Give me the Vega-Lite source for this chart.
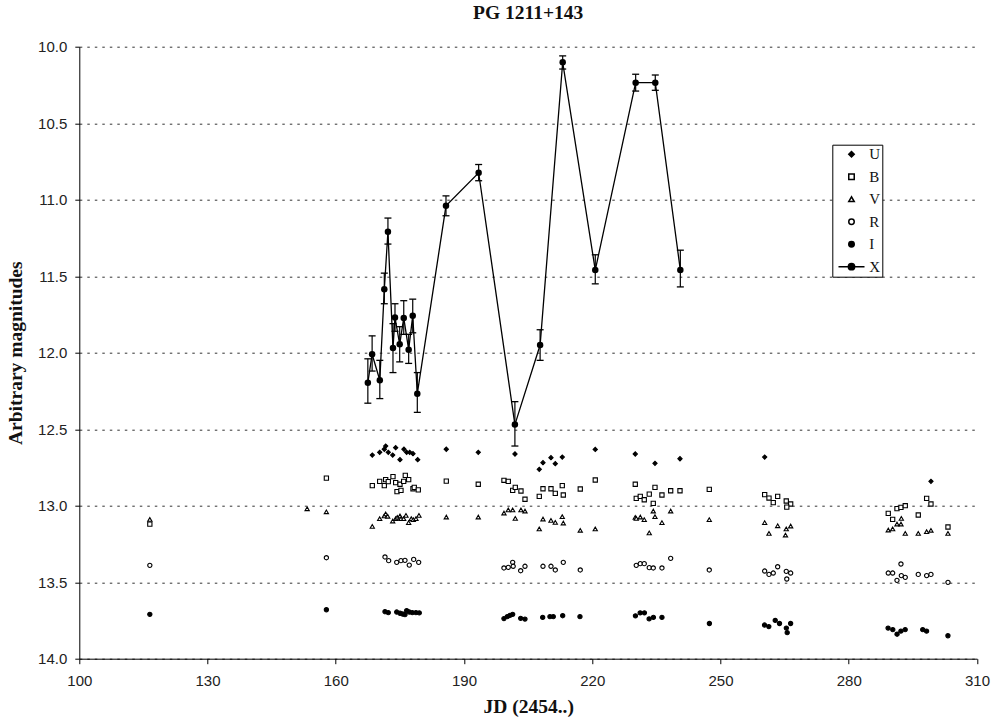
{
"$schema": "https://vega.github.io/schema/vega-lite/v6.json",
"width": 897.7, "height": 612,
"autosize": {"type": "none"},
"padding": {"left": 79.3, "top": 46.7, "right": 14, "bottom": 63.3},
"background": "white",
"title": {"text": "PG 1211+143", "font": "Liberation Serif", "fontSize": 19.5, "fontWeight": "bold", "color": "#111", "offset": 16, "anchor": "middle"},
"config": {
 "view": {"stroke": null},
 "axis": {"domainColor": "black", "tickColor": "black", "labelFont": "Liberation Sans", "labelFontSize": 15, "labelColor": "#222", "titleFont": "Liberation Serif", "titleFontWeight": "bold", "titleFontSize": 19.5, "titleColor": "#111", "tickSize": 5},
 "axisX": {"grid": false, "labelPadding": 10, "titlePadding": 9, "labelFlush": false},
 "axisY": {"grid": true, "gridDash": [2.5,5], "gridColor": "#333", "labelPadding": 8, "tickSize": 4.5, "titlePadding": 12, "labelFlush": false}
},
"datasets": {
"bands": [
{"band":"U","jd":168.54,"mag":12.669},{"band":"U","jd":170.27,"mag":12.651},{"band":"U","jd":171.35,"mag":12.631},{"band":"U","jd":171.67,"mag":12.61},{"band":"U","jd":172.28,"mag":12.651},{"band":"U","jd":173.31,"mag":12.669},{"band":"U","jd":174.01,"mag":12.621},{"band":"U","jd":175.02,"mag":12.699},{"band":"U","jd":175.95,"mag":12.631},{"band":"U","jd":176.58,"mag":12.651},{"band":"U","jd":177.29,"mag":12.651},{"band":"U","jd":178.06,"mag":12.66},{"band":"U","jd":179.16,"mag":12.699},{"band":"U","jd":185.85,"mag":12.631},{"band":"U","jd":193.33,"mag":12.651},{"band":"U","jd":201.92,"mag":12.662},{"band":"U","jd":207.6,"mag":12.762},{"band":"U","jd":208.47,"mag":12.719},{"band":"U","jd":210.34,"mag":12.686},{"band":"U","jd":211.35,"mag":12.725},{"band":"U","jd":212.98,"mag":12.682},{"band":"U","jd":220.7,"mag":12.632},{"band":"U","jd":230.06,"mag":12.662},{"band":"U","jd":234.67,"mag":12.723},{"band":"U","jd":240.52,"mag":12.693},{"band":"U","jd":260.33,"mag":12.682},{"band":"U","jd":299.23,"mag":12.841},
{"band":"B","jd":116.5,"mag":13.12},{"band":"B","jd":157.8,"mag":12.82},{"band":"B","jd":168.54,"mag":12.869},{"band":"B","jd":170.27,"mag":12.841},{"band":"B","jd":171.35,"mag":12.869},{"band":"B","jd":171.67,"mag":12.83},{"band":"B","jd":172.28,"mag":12.843},{"band":"B","jd":173.38,"mag":12.81},{"band":"B","jd":174.01,"mag":12.849},{"band":"B","jd":174.32,"mag":12.908},{"band":"B","jd":175.02,"mag":12.86},{"band":"B","jd":175.25,"mag":12.9},{"band":"B","jd":175.88,"mag":12.841},{"band":"B","jd":176.26,"mag":12.802},{"band":"B","jd":177.05,"mag":12.83},{"band":"B","jd":178.06,"mag":12.889},{"band":"B","jd":178.36,"mag":12.88},{"band":"B","jd":179.3,"mag":12.897},{"band":"B","jd":185.85,"mag":12.839},{"band":"B","jd":193.33,"mag":12.86},{"band":"B","jd":199.34,"mag":12.834},{"band":"B","jd":200.35,"mag":12.841},{"band":"B","jd":201.38,"mag":12.9},{"band":"B","jd":201.99,"mag":12.88},{"band":"B","jd":203.32,"mag":12.904},{"band":"B","jd":204.26,"mag":12.958},{"band":"B","jd":207.6,"mag":12.939},{"band":"B","jd":208.47,"mag":12.889},{"band":"B","jd":210.34,"mag":12.889},{"band":"B","jd":211.35,"mag":12.919},{"band":"B","jd":212.98,"mag":12.869},{"band":"B","jd":213.22,"mag":12.93},{"band":"B","jd":217.19,"mag":12.891},{"band":"B","jd":220.7,"mag":12.832},{"band":"B","jd":230.06,"mag":12.86},{"band":"B","jd":230.29,"mag":12.952},{"band":"B","jd":231.23,"mag":12.939},{"band":"B","jd":232.16,"mag":12.961},{"band":"B","jd":233.33,"mag":12.924},{"band":"B","jd":234.27,"mag":12.985},{"band":"B","jd":234.67,"mag":12.88},{"band":"B","jd":236.3,"mag":12.93},{"band":"B","jd":238.34,"mag":12.902},{"band":"B","jd":240.52,"mag":12.902},{"band":"B","jd":247.37,"mag":12.893},{"band":"B","jd":260.33,"mag":12.928},{"band":"B","jd":261.34,"mag":12.95},{"band":"B","jd":262.34,"mag":12.98},{"band":"B","jd":263.37,"mag":12.939},{"band":"B","jd":265.38,"mag":12.969},{"band":"B","jd":266.41,"mag":12.989},{"band":"B","jd":265.5,"mag":13.009},{"band":"B","jd":289.24,"mag":13.05},{"band":"B","jd":290.27,"mag":13.089},{"band":"B","jd":291.28,"mag":13.019},{"band":"B","jd":292.21,"mag":13.011},{"band":"B","jd":293.22,"mag":13.0},{"band":"B","jd":296.26,"mag":13.061},{"band":"B","jd":298.22,"mag":12.952},{"band":"B","jd":299.23,"mag":12.989},{"band":"B","jd":303.21,"mag":13.139},
{"band":"V","jd":116.5,"mag":13.09},{"band":"V","jd":153.3,"mag":13.02},{"band":"V","jd":157.8,"mag":13.04},{"band":"V","jd":168.54,"mag":13.135},{"band":"V","jd":170.27,"mag":13.085},{"band":"V","jd":171.35,"mag":13.067},{"band":"V","jd":171.67,"mag":13.054},{"band":"V","jd":172.14,"mag":13.069},{"band":"V","jd":173.31,"mag":13.1},{"band":"V","jd":174.01,"mag":13.085},{"band":"V","jd":174.39,"mag":13.076},{"band":"V","jd":175.02,"mag":13.067},{"band":"V","jd":175.25,"mag":13.085},{"band":"V","jd":175.88,"mag":13.085},{"band":"V","jd":176.42,"mag":13.063},{"band":"V","jd":177.05,"mag":13.111},{"band":"V","jd":177.66,"mag":13.085},{"band":"V","jd":178.13,"mag":13.091},{"band":"V","jd":178.76,"mag":13.085},{"band":"V","jd":179.46,"mag":13.063},{"band":"V","jd":185.85,"mag":13.074},{"band":"V","jd":193.33,"mag":13.074},{"band":"V","jd":199.34,"mag":13.048},{"band":"V","jd":200.35,"mag":13.028},{"band":"V","jd":201.38,"mag":13.028},{"band":"V","jd":201.99,"mag":13.083},{"band":"V","jd":203.32,"mag":13.028},{"band":"V","jd":204.26,"mag":13.035},{"band":"V","jd":207.6,"mag":13.152},{"band":"V","jd":208.47,"mag":13.087},{"band":"V","jd":210.34,"mag":13.096},{"band":"V","jd":211.35,"mag":13.109},{"band":"V","jd":212.98,"mag":13.072},{"band":"V","jd":213.22,"mag":13.113},{"band":"V","jd":217.19,"mag":13.161},{"band":"V","jd":220.7,"mag":13.152},{"band":"V","jd":230.06,"mag":13.076},{"band":"V","jd":230.29,"mag":13.083},{"band":"V","jd":231.23,"mag":13.074},{"band":"V","jd":232.16,"mag":13.091},{"band":"V","jd":233.33,"mag":13.178},{"band":"V","jd":234.27,"mag":13.035},{"band":"V","jd":234.67,"mag":13.072},{"band":"V","jd":236.3,"mag":13.111},{"band":"V","jd":238.34,"mag":13.035},{"band":"V","jd":247.37,"mag":13.091},{"band":"V","jd":260.33,"mag":13.111},{"band":"V","jd":261.34,"mag":13.181},{"band":"V","jd":263.37,"mag":13.131},{"band":"V","jd":265.38,"mag":13.152},{"band":"V","jd":265.2,"mag":13.192},{"band":"V","jd":266.41,"mag":13.133},{"band":"V","jd":289.24,"mag":13.159},{"band":"V","jd":290.27,"mag":13.152},{"band":"V","jd":291.28,"mag":13.12},{"band":"V","jd":292.21,"mag":13.12},{"band":"V","jd":292.3,"mag":13.083},{"band":"V","jd":293.22,"mag":13.181},{"band":"V","jd":296.26,"mag":13.181},{"band":"V","jd":298.22,"mag":13.17},{"band":"V","jd":299.23,"mag":13.161},{"band":"V","jd":303.21,"mag":13.181},
{"band":"R","jd":116.5,"mag":13.39},{"band":"R","jd":157.8,"mag":13.34},{"band":"R","jd":171.51,"mag":13.335},{"band":"R","jd":172.37,"mag":13.359},{"band":"R","jd":174.25,"mag":13.37},{"band":"R","jd":175.25,"mag":13.359},{"band":"R","jd":176.19,"mag":13.357},{"band":"R","jd":177.19,"mag":13.388},{"band":"R","jd":178.22,"mag":13.351},{"band":"R","jd":179.39,"mag":13.37},{"band":"R","jd":199.34,"mag":13.407},{"band":"R","jd":200.35,"mag":13.403},{"band":"R","jd":201.38,"mag":13.37},{"band":"R","jd":201.5,"mag":13.396},{"band":"R","jd":203.25,"mag":13.425},{"band":"R","jd":204.26,"mag":13.396},{"band":"R","jd":208.47,"mag":13.396},{"band":"R","jd":210.34,"mag":13.396},{"band":"R","jd":211.35,"mag":13.42},{"band":"R","jd":213.22,"mag":13.37},{"band":"R","jd":217.19,"mag":13.42},{"band":"R","jd":230.29,"mag":13.39},{"band":"R","jd":231.23,"mag":13.379},{"band":"R","jd":232.16,"mag":13.379},{"band":"R","jd":233.33,"mag":13.405},{"band":"R","jd":234.27,"mag":13.407},{"band":"R","jd":236.3,"mag":13.407},{"band":"R","jd":238.34,"mag":13.344},{"band":"R","jd":247.37,"mag":13.42},{"band":"R","jd":260.33,"mag":13.427},{"band":"R","jd":261.34,"mag":13.449},{"band":"R","jd":262.34,"mag":13.44},{"band":"R","jd":263.37,"mag":13.399},{"band":"R","jd":265.38,"mag":13.429},{"band":"R","jd":266.41,"mag":13.44},{"band":"R","jd":265.5,"mag":13.479},{"band":"R","jd":289.24,"mag":13.44},{"band":"R","jd":290.27,"mag":13.44},{"band":"R","jd":291.28,"mag":13.488},{"band":"R","jd":292.21,"mag":13.381},{"band":"R","jd":292.3,"mag":13.457},{"band":"R","jd":293.22,"mag":13.468},{"band":"R","jd":296.26,"mag":13.449},{"band":"R","jd":298.22,"mag":13.457},{"band":"R","jd":299.23,"mag":13.449},{"band":"R","jd":303.21,"mag":13.501},
{"band":"I","jd":116.5,"mag":13.71},{"band":"I","jd":157.8,"mag":13.68},{"band":"I","jd":171.51,"mag":13.693},{"band":"I","jd":172.28,"mag":13.699},{"band":"I","jd":174.25,"mag":13.695},{"band":"I","jd":175.02,"mag":13.703},{"band":"I","jd":175.65,"mag":13.708},{"band":"I","jd":176.19,"mag":13.712},{"band":"I","jd":176.58,"mag":13.686},{"band":"I","jd":177.19,"mag":13.695},{"band":"I","jd":177.9,"mag":13.699},{"band":"I","jd":178.76,"mag":13.699},{"band":"I","jd":179.53,"mag":13.701},{"band":"I","jd":199.34,"mag":13.738},{"band":"I","jd":200.12,"mag":13.725},{"band":"I","jd":200.75,"mag":13.717},{"band":"I","jd":201.38,"mag":13.71},{"band":"I","jd":203.25,"mag":13.736},{"band":"I","jd":204.26,"mag":13.741},{"band":"I","jd":208.4,"mag":13.73},{"band":"I","jd":210.1,"mag":13.725},{"band":"I","jd":210.88,"mag":13.725},{"band":"I","jd":213.08,"mag":13.719},{"band":"I","jd":217.12,"mag":13.725},{"band":"I","jd":230.1,"mag":13.72},{"band":"I","jd":231.2,"mag":13.7},{"band":"I","jd":232.2,"mag":13.7},{"band":"I","jd":233.3,"mag":13.74},{"band":"I","jd":234.3,"mag":13.73},{"band":"I","jd":236.3,"mag":13.73},{"band":"I","jd":247.4,"mag":13.77},{"band":"I","jd":260.3,"mag":13.78},{"band":"I","jd":261.3,"mag":13.79},{"band":"I","jd":262.8,"mag":13.75},{"band":"I","jd":263.8,"mag":13.77},{"band":"I","jd":265.4,"mag":13.8},{"band":"I","jd":265.6,"mag":13.83},{"band":"I","jd":266.4,"mag":13.77},{"band":"I","jd":289.2,"mag":13.8},{"band":"I","jd":290.3,"mag":13.81},{"band":"I","jd":291.3,"mag":13.84},{"band":"I","jd":292.2,"mag":13.82},{"band":"I","jd":293.2,"mag":13.81},{"band":"I","jd":297.3,"mag":13.81},{"band":"I","jd":298.2,"mag":13.82},{"band":"I","jd":303.2,"mag":13.85}
],
"xs": [
{"jd":167.5,"mag":12.196,"lo":12.04,"hi":12.33},{"jd":168.5,"mag":12.01,"lo":11.89,"hi":12.12},{"jd":170.3,"mag":12.18,"lo":12.05,"hi":12.3},{"jd":171.35,"mag":11.586,"lo":11.48,"hi":11.68},{"jd":172.2,"mag":11.21,"lo":11.12,"hi":11.29},{"jd":173.38,"mag":11.97,"lo":11.81,"hi":12.13},{"jd":173.85,"mag":11.77,"lo":11.68,"hi":11.86},{"jd":174.95,"mag":11.945,"lo":11.83,"hi":12.06},{"jd":175.9,"mag":11.773,"lo":11.66,"hi":11.88},{"jd":177.05,"mag":11.98,"lo":11.88,"hi":12.07},{"jd":178.0,"mag":11.758,"lo":11.65,"hi":11.87},{"jd":179.07,"mag":12.268,"lo":12.13,"hi":12.39},{"jd":185.78,"mag":11.04,"lo":10.975,"hi":11.105},{"jd":193.42,"mag":10.824,"lo":10.77,"hi":10.876},{"jd":201.9,"mag":12.47,"lo":12.32,"hi":12.61},{"jd":207.8,"mag":11.95,"lo":11.85,"hi":12.05},{"jd":213.08,"mag":10.102,"lo":10.06,"hi":10.146},{"jd":220.7,"mag":11.46,"lo":11.36,"hi":11.55},{"jd":230.15,"mag":10.235,"lo":10.18,"hi":10.29},{"jd":234.74,"mag":10.235,"lo":10.185,"hi":10.285},{"jd":240.6,"mag":11.46,"lo":11.33,"hi":11.57}
]
},
"layer": [
{
 "data": {"name": "bands"},
 "mark": {"type": "point", "filled": true, "size": 18, "stroke": "black", "strokeWidth": 1.1, "opacity": 1},
 "encoding": {
  "x": {"field": "jd", "type": "quantitative", "title": "JD (2454..)", "scale": {"domain": [100, 310], "nice": false, "zero": false}, "axis": {"values": [100,130,160,190,220,250,280,310]}},
  "y": {"field": "mag", "type": "quantitative", "title": "Arbitrary magnitudes", "scale": {"domain": [10, 14], "nice": false, "zero": false, "reverse": true}, "axis": {"values": [10,10.5,11,11.5,12,12.5,13,13.5,14], "format": ".1f"}},
  "shape": {"field": "band", "type": "nominal",
   "scale": {"domain": ["U","B","V","R","I","X"], "range": ["diamond","square","triangle-up","circle","circle","M-4.75,0L4.75,0M-1.15,0A1.15,1.15,0,1,1,1.15,0A1.15,1.15,0,1,1,-1.15,0Z"]},
   "legend": {"title": null, "orient": "none", "legendX": 753, "legendY": 98, "strokeColor": "black", "fillColor": "white", "padding": 2, "symbolSize": 30, "symbolOffset": 9.7, "labelFont": "Liberation Serif", "labelFontSize": 15, "labelColor": "#111", "labelOffset": 10.3, "rowPadding": 6.5,
     "encode": {"symbols": {"update": {"stroke": {"value": "black"}, "strokeWidth": {"value": 1}, "opacity": {"value": 1}}}}}},
  "fill": {"field": "band", "type": "nominal",
   "scale": {"domain": ["U","B","V","R","I","X"], "range": ["black","white","white","white","black","black"]},
   "legend": {"title": null, "orient": "none", "legendX": 753, "legendY": 98, "strokeColor": "black", "fillColor": "white", "padding": 2, "symbolSize": 30, "symbolOffset": 9.7, "labelFont": "Liberation Serif", "labelFontSize": 15, "labelColor": "#111", "labelOffset": 10.3, "rowPadding": 6.5,
     "encode": {"symbols": {"update": {"stroke": {"value": "black"}, "strokeWidth": {"value": 1}, "opacity": {"value": 1}}}}}}
 }
},
{
 "data": {"name": "xs"},
 "mark": {"type": "rule", "color": "black", "strokeWidth": 1.2},
 "encoding": {
  "x": {"field": "jd", "type": "quantitative", "title": "JD (2454..)"},
  "y": {"field": "lo", "type": "quantitative", "title": "Arbitrary magnitudes"},
  "y2": {"field": "hi"}
 }
},
{
 "data": {"name": "xs"},
 "mark": {"type": "tick", "orient": "horizontal", "color": "black", "size": 7, "thickness": 1.3, "opacity": 1},
 "encoding": {
  "x": {"field": "jd", "type": "quantitative", "title": "JD (2454..)"},
  "y": {"field": "lo", "type": "quantitative", "title": "Arbitrary magnitudes"}
 }
},
{
 "data": {"name": "xs"},
 "mark": {"type": "tick", "orient": "horizontal", "color": "black", "size": 7, "thickness": 1.3, "opacity": 1},
 "encoding": {
  "x": {"field": "jd", "type": "quantitative", "title": "JD (2454..)"},
  "y": {"field": "hi", "type": "quantitative", "title": "Arbitrary magnitudes"}
 }
},
{
 "data": {"name": "xs"},
 "mark": {"type": "line", "color": "black", "strokeWidth": 1.3},
 "encoding": {
  "x": {"field": "jd", "type": "quantitative", "title": "JD (2454..)"},
  "y": {"field": "mag", "type": "quantitative", "title": "Arbitrary magnitudes"}
 }
},
{
 "data": {"name": "xs"},
 "mark": {"type": "point", "shape": "circle", "filled": true, "color": "black", "size": 42, "opacity": 1},
 "encoding": {
  "x": {"field": "jd", "type": "quantitative", "title": "JD (2454..)"},
  "y": {"field": "mag", "type": "quantitative", "title": "Arbitrary magnitudes"}
 }
}
]
}
